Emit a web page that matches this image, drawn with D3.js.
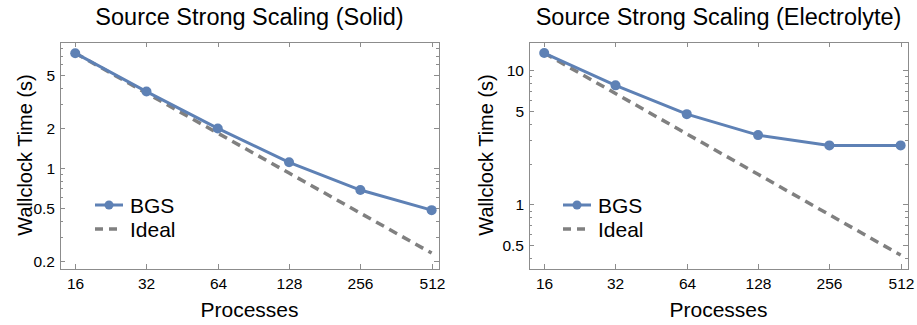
<!DOCTYPE html>
<html>
<head>
<meta charset="utf-8">
<script src="https://cdn.jsdelivr.net/npm/d3@7"></script>
<style>
  body { margin: 0; background: #fff; }
  svg text { font-family: "Liberation Sans", Arial, sans-serif; fill: #000; }
</style>
</head>
<body>
<div id="chart"></div>
<script>
var procs = [16, 32, 64, 128, 256, 512];
var procLabels = ["16", "32", "64", "128", "256", "512"];

var solidBGS = [7.3, 3.75, 1.98, 1.1, 0.68, 0.48];
var solidIdeal = [7.3, 3.65, 1.825, 0.9125, 0.456, 0.228];
var solidTicks = [0.2, 0.5, 1, 2, 5];

var electroBGS = [13.4, 7.7, 4.7, 3.28, 2.75, 2.75];
var electroIdeal = [13.4, 6.7, 3.35, 1.675, 0.8375, 0.419];
var electroTicks = [0.5, 1, 5, 10];

var titles = ["Source Strong Scaling (Solid)", "Source Strong Scaling (Electrolyte)"];
var seriesNames = ["BGS", "Ideal"];

var width = 917, height = 325;
var blue = "#5e81b5", gray = "#808080", frameColor = "#8c8c8c";

var svg = d3.select("#chart").append("svg")
    .attr("width", width)
    .attr("height", height);

function panel(opts) {
    var x = d3.scaleLog().base(2).domain([13.8, 550]).range([opts.left, opts.right]);
    var y = d3.scaleLog().domain(opts.ydomain).range([269, 42]);
    var g = svg.append("g");
    var x0 = opts.left, x1 = opts.right, y0 = 269, y1 = 42;

    // minor ticks, 1..9 in every decade
    var minor = [];
    for (var e = -2; e <= 2; e++) {
        for (var m = 1; m <= 9; m++) {
            var v = m * Math.pow(10, e);
            if (v >= opts.ydomain[0] && v <= opts.ydomain[1] && opts.ticks.indexOf(+v.toPrecision(3)) < 0) minor.push(v);
        }
    }
    minor.forEach(function (v) {
        var yy = Math.round(y(v)) + 0.5;
        g.append("line").attr("x1", x0).attr("x2", x0 + 3).attr("y1", yy).attr("y2", yy).attr("stroke", frameColor);
        g.append("line").attr("x1", x1).attr("x2", x1 - 3).attr("y1", yy).attr("y2", yy).attr("stroke", frameColor);
    });
    opts.ticks.forEach(function (v) {
        var yy = Math.round(y(v)) + 0.5;
        g.append("line").attr("x1", x0).attr("x2", x0 + 5).attr("y1", yy).attr("y2", yy).attr("stroke", frameColor);
        g.append("line").attr("x1", x1).attr("x2", x1 - 5).attr("y1", yy).attr("y2", yy).attr("stroke", frameColor);
        g.append("text").attr("x", x0 - 5).attr("y", yy + 5.5)
            .attr("text-anchor", "end").style("font-size", "15.5px").text(String(v));
    });
    procs.forEach(function (p, i) {
        var xx = Math.round(x(p)) + 0.5;
        g.append("line").attr("x1", xx).attr("x2", xx).attr("y1", y0).attr("y2", y0 - 5).attr("stroke", frameColor);
        g.append("line").attr("x1", xx).attr("x2", xx).attr("y1", y1).attr("y2", y1 + 5).attr("stroke", frameColor);
        g.append("text").attr("x", xx).attr("y", 288.5)
            .attr("text-anchor", "middle").style("font-size", "15.5px").text(procLabels[i]);
    });

    g.append("rect")
        .attr("x", x0 + 0.5).attr("y", y1 + 0.5)
        .attr("width", x1 - x0).attr("height", y0 - y1)
        .attr("fill", "none").attr("stroke", frameColor);

    var line = d3.line()
        .x(function (d) { return x(d[0]); })
        .y(function (d) { return y(d[1]); });

    g.append("path")
        .datum(d3.zip(procs, opts.ideal))
        .attr("d", line)
        .attr("fill", "none").attr("stroke", gray)
        .attr("stroke-width", 3.5).attr("stroke-dasharray", "9,6");

    g.append("path")
        .datum(d3.zip(procs, opts.bgs))
        .attr("d", line)
        .attr("fill", "none").attr("stroke", blue)
        .attr("stroke-width", 3);

    g.selectAll("circle.pt")
        .data(d3.zip(procs, opts.bgs))
        .enter().append("circle")
        .attr("class", "pt")
        .attr("cx", function (d) { return x(d[0]); })
        .attr("cy", function (d) { return y(d[1]); })
        .attr("r", 5)
        .attr("fill", blue);

    // legend
    var lx = opts.legendX;
    g.append("line").attr("x1", lx).attr("x2", lx + 28).attr("y1", 205).attr("y2", 205)
        .attr("stroke", blue).attr("stroke-width", 3);
    g.append("circle").attr("cx", lx + 14).attr("cy", 205).attr("r", 4.5).attr("fill", blue);
    g.append("line").attr("x1", lx).attr("x2", lx + 28).attr("y1", 229).attr("y2", 229)
        .attr("stroke", gray).attr("stroke-width", 3.5).attr("stroke-dasharray", "8,6");
    g.append("text").attr("x", lx + 35).attr("y", 212.5).style("font-size", "21px").text(seriesNames[0]);
    g.append("text").attr("x", lx + 35).attr("y", 236.5).style("font-size", "21px").text(seriesNames[1]);

    // titles
    g.append("text").attr("x", (x0 + x1) / 2).attr("y", 25)
        .attr("text-anchor", "middle").style("font-size", "23.5px").text(opts.title);
    g.append("text").attr("x", (x0 + x1) / 2).attr("y", 317)
        .attr("text-anchor", "middle").style("font-size", "21px").text("Processes");
    g.append("text")
        .attr("transform", "translate(" + opts.ytitleX + ",155) rotate(-90)")
        .attr("text-anchor", "middle").style("font-size", "20px").text("Wallclock Time (s)");
}

panel({left: 60, right: 439, ydomain: [0.173, 8.86], ticks: solidTicks,
       bgs: solidBGS, ideal: solidIdeal, title: titles[0], legendX: 95, ytitleX: 32});
panel({left: 529, right: 908, ydomain: [0.33, 16.2], ticks: electroTicks,
       bgs: electroBGS, ideal: electroIdeal, title: titles[1], legendX: 563, ytitleX: 493});
</script>
</body>
</html>
